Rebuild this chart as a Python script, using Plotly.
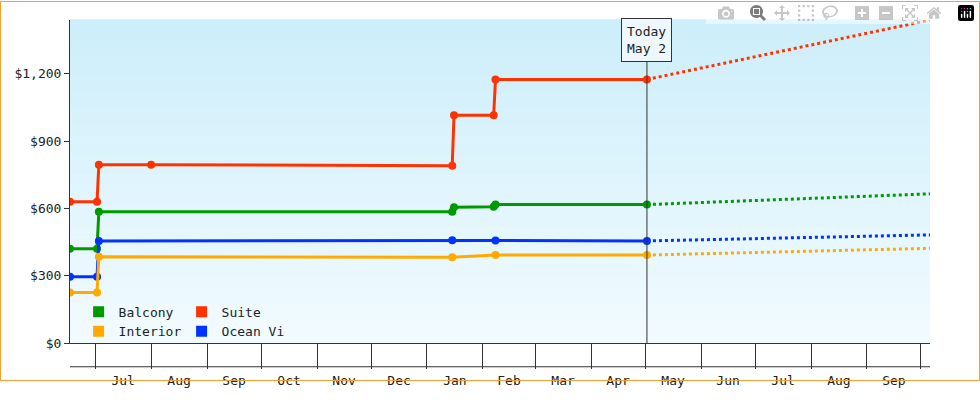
import plotly.graph_objects as go

# price history (step points) per cabin type
suite_dates = ["2023-06-17", "2023-07-02", "2023-07-03", "2023-08-01", "2024-01-15", "2024-01-16", "2024-02-07", "2024-02-08", "2024-05-02"]
suite_vals = [630, 630, 795, 795, 790, 1015, 1015, 1175, 1175]
balcony_dates = ["2023-06-17", "2023-07-02", "2023-07-03", "2024-01-15", "2024-01-16", "2024-02-07", "2024-02-08", "2024-05-02"]
balcony_vals = [420, 420, 585, 585, 605, 607, 617, 617]
ocean_dates = ["2023-06-17", "2023-07-02", "2023-07-03", "2024-01-15", "2024-02-08", "2024-05-02"]
ocean_vals = [295, 295, 455, 458, 457, 455]
interior_dates = ["2023-06-17", "2023-07-02", "2023-07-03", "2024-01-15", "2024-02-08", "2024-05-02"]
interior_vals = [225, 225, 385, 382, 392, 392]

# projections after today
proj_dates = ["2024-05-02", "2024-10-06"]
suite_proj = [1175, 1440]
balcony_proj = [617, 665]
ocean_proj = [455, 482]
interior_proj = [392, 422]

colors = {"Suite": "#ff3300", "Balcony": "#009900", "Ocean View": "#0033ff", "Interior": "#ffaa00"}

fig = go.Figure()
series = [("Suite", suite_dates, suite_vals, suite_proj),
          ("Balcony", balcony_dates, balcony_vals, balcony_proj),
          ("Ocean View", ocean_dates, ocean_vals, ocean_proj),
          ("Interior", interior_dates, interior_vals, interior_proj)]
for name, d, v, p in series:
    c = colors[name]
    fig.add_trace(go.Scatter(x=d, y=v, mode="lines+markers", line=dict(color=c, width=3),
                             marker=dict(size=8, color=c), showlegend=False))
    fig.add_trace(go.Scatter(x=proj_dates, y=p, mode="lines", line=dict(color=c, width=3, dash="dot"),
                             showlegend=False))

# legend entries, two rows
for name, lg in [("Balcony", "legend"), ("Suite", "legend"), ("Interior", "legend2"), ("Ocean View", "legend2")]:
    fig.add_trace(go.Scatter(x=[None], y=[None], mode="markers", name=name, legend=lg,
                             marker=dict(symbol="square", size=11, color=colors[name])))

# gradient background
n = 170
top = (204, 238, 250)
bot = (242, 251, 255)
shapes = []
for i in range(n):
    f = i / (n - 1)
    col = tuple(int(round(top[k] + (bot[k] - top[k]) * f)) for k in range(3))
    shapes.append(dict(type="rect", xref="paper", yref="paper", x0=0, x1=1,
                       y0=1 - (i + 1) / n, y1=1 - i / n + 0.002, fillcolor="rgb(%d,%d,%d)" % col,
                       line=dict(width=0), layer="below"))
shapes.append(dict(type="line", xref="x", yref="paper", x0="2024-05-02", x1="2024-05-02",
                   y0=0, y1=1, line=dict(color="#333", width=1)))
shapes.append(dict(type="line", xref="paper", yref="paper", x0=0, x1=1, y0=-25 / 340, y1=-25 / 340,
                   line=dict(color="#333", width=1)))
shapes.append(dict(type="rect", xref="paper", yref="paper", x0=-69.5 / 860, x1=1 + 49.5 / 860,
                   y0=-39.5 / 340, y1=1 + 19.5 / 340, line=dict(color="#f0a030", width=1)))

font = "DejaVu Sans Mono"
fig.update_layout(
    width=980, height=400, margin=dict(l=70, r=50, t=20, b=40),
    paper_bgcolor="white", plot_bgcolor="rgba(0,0,0,0)",
    font=dict(family=font, size=13, color="#222"),
    shapes=shapes,
    legend=dict(orientation="h", x=0.01, y=0.05, yanchor="bottom", entrywidth=58,
                bgcolor="rgba(0,0,0,0)", font=dict(size=13), itemwidth=30, tracegroupgap=0),
    legend2=dict(orientation="h", x=0.01, y=-0.01, yanchor="bottom", entrywidth=58,
                 bgcolor="rgba(0,0,0,0)", font=dict(size=13), itemwidth=30, tracegroupgap=0),
    annotations=[dict(x="2024-05-02", y=1, xref="x", yref="paper", yanchor="bottom", yshift=-42,
                      text="Today<br>May 2", showarrow=False, bgcolor="#eef8fc",
                      bordercolor="#333", borderwidth=1, borderpad=5, font=dict(size=13))],
)
fig.update_xaxes(range=["2023-06-17", "2024-10-06"], dtick="M1", tick0="2023-07-01",
                 tickformat="%b", ticklabelmode="period", ticks="outside", ticklen=25,
                 tickcolor="#333", showline=True, linecolor="#333", showgrid=False, zeroline=False)
fig.update_yaxes(range=[0, 1440], dtick=300, tickformat="$,", ticks="outside", ticklen=5,
                 tickcolor="#333", showline=True, linecolor="#333", showgrid=False, zeroline=False)

fig.write_html("out.html", post_script="document.body.style.margin='0';")
